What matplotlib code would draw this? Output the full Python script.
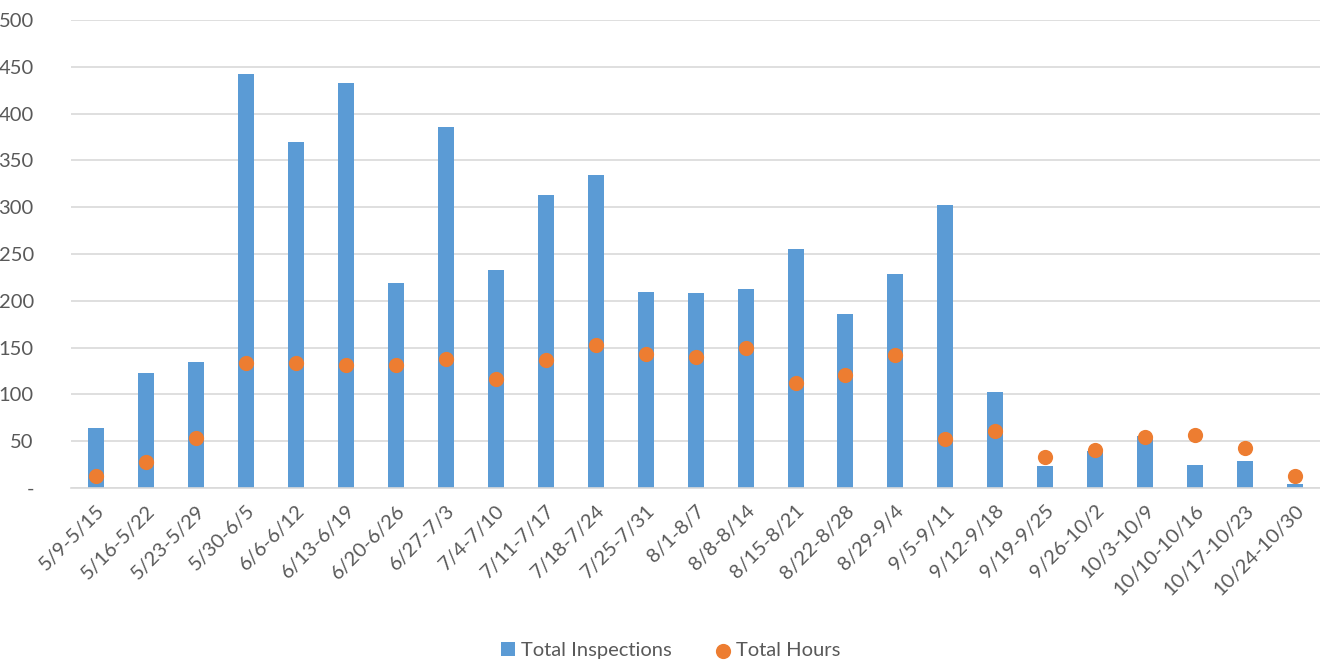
import matplotlib
matplotlib.use("Agg")
import matplotlib.pyplot as plt
from matplotlib.ticker import FuncFormatter

plt.rcParams['font.family'] = ['Lato', 'DejaVu Sans']

weeks = ['5/9-5/15', '5/16-5/22', '5/23-5/29', '5/30-6/5', '6/6-6/12', '6/13-6/19',
         '6/20-6/26', '6/27-7/3', '7/4-7/10', '7/11-7/17', '7/18-7/24', '7/25-7/31',
         '8/1-8/7', '8/8-8/14', '8/15-8/21', '8/22-8/28', '8/29-9/4', '9/5-9/11',
         '9/12-9/18', '9/19-9/25', '9/26-10/2', '10/3-10/9', '10/10-10/16',
         '10/17-10/23', '10/24-10/30']
inspections = [64, 123, 135, 442, 370, 433, 219, 386, 233, 313, 334, 209,
               208, 213, 255, 186, 229, 302, 103, 24, 40, 56, 25, 29, 4]
hours = [13, 28, 53, 134, 134, 132, 132, 138, 117, 137, 153, 143,
         140, 150, 112, 121, 142, 52, 61, 33, 41, 55, 57, 43, 13]

blue = '#5B9BD5'
orange = '#ED7D31'
txt = '#595959'

fig = plt.figure(figsize=(13.2, 6.65), dpi=100)
ax = fig.add_axes([0.054, 0.266, 0.946, 0.704])

x = list(range(len(weeks)))
bars = ax.bar(x, inspections, width=0.32, color=blue, label='Total Inspections', zorder=2)
dots = ax.scatter(x, hours, s=120, color=orange, label='Total Hours', zorder=3, linewidths=0)

ax.set_xlim(-0.5, len(weeks) - 0.5)
ax.set_ylim(0, 500)
ax.set_yticks(range(0, 501, 50))
ax.yaxis.set_major_formatter(FuncFormatter(lambda v, p: '-' if v == 0 else f'{int(v)}'))
ax.grid(axis='y', color='#d9d9d9', linewidth=1.2, zorder=0)
ax.set_axisbelow(True)

for s in ['top', 'right', 'left']:
    ax.spines[s].set_visible(False)
ax.spines['bottom'].set_color('#d9d9d9')
ax.spines['bottom'].set_linewidth(1.2)

ax.set_xticks(x)
ax.set_xticklabels(weeks, rotation=45, ha='right', rotation_mode='anchor')
ax.tick_params(axis='both', length=0, labelsize=14.5, colors=txt)
ax.tick_params(axis='y', pad=27)
ax.tick_params(axis='x', pad=10)

leg = fig.legend([bars, dots], ['Total Inspections', 'Total Hours'],
                 loc='center', bbox_to_anchor=(0.508, 0.022), ncol=2, frameon=False,
                 fontsize=14.5, handlelength=0.7, handleheight=0.7, handletextpad=0.3,
                 columnspacing=2.2)
for t in leg.get_texts():
    t.set_color(txt)

fig.savefig('out.png', dpi=100)
